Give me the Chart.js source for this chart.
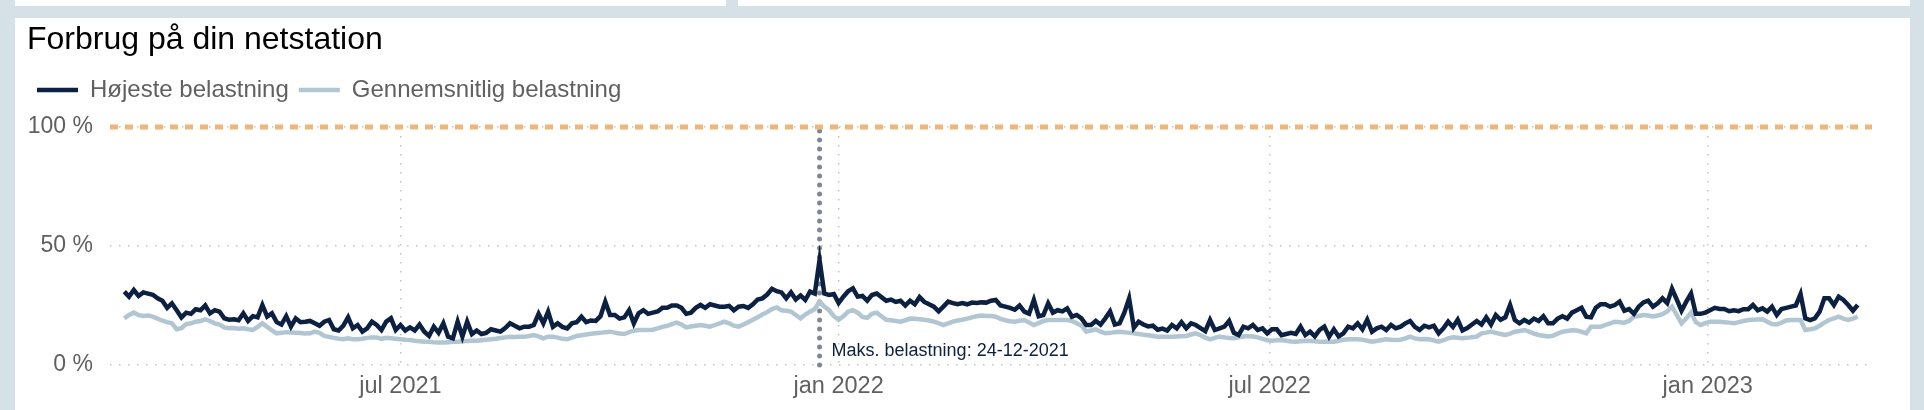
<!DOCTYPE html>
<html lang="da">
<head>
<meta charset="utf-8">
<title>Forbrug på din netstation</title>
<script src="https://cdn.jsdelivr.net/npm/chart.js@4.4.0/dist/chart.umd.min.js"></script>
<style>
  html, body { margin: 0; padding: 0; background: #d5e0e7; width: 1924px; height: 410px; overflow: hidden; }
  .top { position: absolute; top: 0; height: 6px; background: #fff; }
  #panel { position: absolute; left: 15px; top: 18px; width: 1895px; height: 392px; background: #fff; }
</style>
</head>
<body>
<div class="top" style="left:15px;width:711px"></div>
<div class="top" style="left:738px;width:1172px"></div>
<div id="panel"><canvas id="loadChart" width="1895" height="392"></canvas></div>
<script>
// one value every second day, starting at startDate
const startDate = '2021-03-07';
const stepDays = 2;

// Højeste belastning (%)
const peakLoad = [
  30.8, 28.7, 31.5, 29, 30.5, 30, 29.5, 28, 27, 24,
  25.9, 23, 20, 22, 21.5, 23.4, 23, 25, 21.7, 23,
  22.4, 19.6, 19, 19.2, 18.8, 21.7, 18.5, 20.5, 20, 25.2,
  20.3, 21.7, 18, 17, 20.5, 16.1, 19.6, 18, 18.2, 18.5,
  17.5, 16.5, 18.2, 18.9, 15, 14.5, 16.5, 20, 15.4, 16.8,
  14, 15.4, 18.2, 16.8, 14.7, 18.2, 19.6, 14.7, 16.8, 14.5,
  15.8, 14.5, 17, 14, 12.2, 16.1, 13.5, 17.5, 11.9, 11.2,
  18.2, 11.9, 18.2, 13, 14.5, 13, 13.5, 15, 14.5, 14,
  15.5, 17.5, 16.5, 15.4, 16.1, 16.1, 16.8, 21.5, 17.5, 22.4,
  16, 17.5, 16, 15.4, 17.5, 18, 20.3, 18, 18.7, 18.5,
  20.5, 26.6, 21, 21, 19.5, 20, 23, 17.5, 21.7, 23,
  21.5, 22, 22.5, 24, 24, 25, 25, 24, 21.5, 22,
  24, 25.2, 24, 25.5, 25, 24.5, 24.5, 24.8, 23, 24.5,
  24.8, 24, 25.5, 27.5, 28, 29.6, 32, 31, 30.5, 28,
  30.5, 27.5, 29.2, 27.3, 30.8, 30, 44.1, 30, 29.4, 29.8,
  26, 28.7, 31, 32.2, 28.7, 29, 27, 29.4, 30, 28.5,
  27, 27.5, 26.5, 27, 25, 27, 25.5, 28.5, 26.5, 25.5,
  24.5, 22.5, 24.5, 26.6, 26, 25.5, 26, 25.5, 26.2, 26,
  26.3, 26.2, 27, 27.3, 25, 24.5, 24, 23.2, 25, 22.4,
  21.5, 27.3, 20.5, 21, 25.9, 22, 23, 22.5, 23.8, 20.3,
  21, 19.6, 16.8, 16.8, 18.5, 17, 19.6, 22.5, 17, 17.5,
  22, 28, 15.6, 18.2, 17, 16.2, 16.5, 14.8, 15.3, 14.5,
  16.8, 15.4, 18, 15.4, 17.5, 16.8, 15.5, 14.2, 18.9, 14.7,
  15.4, 16.1, 18.5, 13.5, 12.6, 16.1, 15.4, 16.8, 14.7, 15.4,
  13.3, 15, 15, 12.5, 13, 13.5, 13, 16.1, 12.6, 14,
  12, 14.7, 16.1, 11.9, 15, 12, 13.3, 16.1, 15.4, 17.5,
  15, 19, 14, 15.4, 16.1, 14.7, 16.8, 15.4, 16.1, 17.5,
  18.5, 16, 14.7, 16.5, 15.8, 16.5, 13.3, 15.4, 18.2, 16,
  19, 14.5, 15.5, 17, 18.5, 17, 20, 17, 21, 19,
  20, 25.2, 18.9, 17.5, 18.9, 17.8, 19.5, 18.5, 20.5, 17.5,
  17.5, 19.5, 20.5, 19.5, 22, 23, 24, 20.3, 20, 24,
  25.5, 25.5, 24.5, 25.2, 26.6, 22.8, 23.5, 21.5, 24.5, 26.3,
  27, 24.5, 25.9, 28, 26, 32, 27.5, 22.8, 26.6, 30,
  21.5, 21.5, 22, 23, 24, 23.5, 23.5, 22.6, 23, 22.6,
  23.4, 23.4, 25.2, 23, 23.8, 22.4, 24.5, 21, 23.5, 24,
  24.5, 25, 29.8, 19.6, 18.9, 19.6, 22.4, 28, 28, 25.2,
  28.7, 27.3, 25.2, 22.8, 25.2
];

// Gennemsnitlig belastning (%)
const avgLoad = [
  19.6, 21, 22, 21, 20.6, 20.8, 20.3, 19.5, 18.6, 18,
  17.5, 15, 15.5, 17.2, 17.5, 18.2, 18.5, 19.2, 18.5, 17.5,
  17, 15.8, 15.4, 15.5, 15.2, 15.4, 15, 14.7, 16, 17.5,
  16, 14.5, 13.3, 13.5, 13.8, 13.6, 13.5, 13.4, 13.2, 13.3,
  14, 13.5, 12.2, 11.8, 11.4, 11, 10.8, 11.2, 10.8, 10.8,
  11, 11.4, 11.6, 11.6, 11, 11.4, 11.2, 11, 10.8, 10.6,
  10.5, 10.2, 10, 9.8, 9.8, 9.5, 9.4, 9.4, 9.6, 9.8,
  9.8, 10, 10.1, 10.2, 10.2, 10.4, 10.6, 10.8, 11, 11.3,
  11.6, 11.9, 11.8, 11.9, 11.9, 12.2, 12.6, 12, 11.2, 11.9,
  11.9, 11.5, 11, 10.8, 11.5, 12.2, 12.5, 12.8, 13.1, 13.3,
  13.5, 13.8, 14, 13.6, 13.2, 13, 13.8, 14.4, 14.7, 14.7,
  14.7, 14.8, 15.4, 16, 16.4, 17.2, 17.8, 17, 15.8, 16.2,
  16.5, 16.8, 16.5, 16.1, 16.8, 17.5, 18.2, 17.5, 16.5, 16.1,
  17, 18, 19, 20, 21.2, 22.2, 23.5, 24.2, 23, 22.8,
  22.4, 21, 19.6, 21.2, 22.4, 23.5, 26.6, 24.5, 23, 20.5,
  19, 20.5, 22.4, 23, 22, 20.2, 19.8, 21.5, 22, 20.5,
  19, 18.8, 18.5, 18.2, 18.8, 19.5, 19.4, 19.2, 19, 18.7,
  18.2, 17.6, 16.8, 17.5, 18.2, 18.7, 19, 19.5, 20, 20.5,
  20.8, 20.6, 20.6, 20.3, 19.4, 18.8, 18.4, 18.2, 18.6, 18.9,
  17.8, 16.8, 17.6, 18.5, 18.9, 18.9, 18.9, 18.9, 18.9, 18.5,
  17.5, 16.5, 14, 14.5, 15, 14, 13.3, 13.5, 13.8, 14,
  13.8, 13.5, 13.3, 13, 12.7, 12.5, 12.2, 11.9, 11.9, 11.9,
  11.9, 12, 12.1, 12.2, 12.8, 13.3, 12.5, 11.5, 10.8, 11.4,
  11.9, 11.6, 11.3, 11.2, 11.6, 12, 12.2, 12, 11.6, 11,
  10.4, 10.2, 10.4, 10.5, 10.2, 9.9, 9.8, 10, 10.2, 10.1,
  10, 9.8, 9.8, 9.8, 9.8, 10.2, 10.6, 10.8, 10.8, 10.8,
  10.6, 10.2, 9.8, 10.1, 10.5, 10.8, 10.6, 10.5, 10.6, 11.2,
  11.9, 11.2, 10.8, 10.9, 10.8, 10.3, 9.8, 10.4, 11.2, 11.6,
  11.4, 11.2, 11.4, 11.7, 11.9, 13.3, 13.6, 14, 13.5, 13,
  12.6, 13.2, 14, 14.3, 14.7, 14, 13.2, 12.6, 12.3, 12,
  12.3, 13.2, 14, 14.3, 14.6, 14.5, 14, 13.3, 16.1, 16.1,
  16.1, 16.8, 17.5, 18.2, 18, 17.8, 18.5, 20.3, 20.6, 21,
  20.8, 20.4, 20.8, 21.4, 22.5, 24.5, 21, 17.5, 19.5, 22,
  18, 16.8, 17.6, 18.2, 18.2, 18.2, 18, 17.8, 17.5, 18,
  18.5, 18.9, 19, 19.1, 19.2, 18.2, 17.2, 17, 17.8, 18.7,
  18.9, 18.9, 18.9, 14.7, 15, 15.4, 16.5, 17.8, 18.9, 19.6,
  20.3, 19.5, 18.9, 19.5, 20.3
];

const capacityLimit = 100;
const yTicks = [0, 50, 100];
const monthTicks = ['2021-07-01', '2022-01-01', '2022-07-01', '2023-01-01'];
const monthLabels = ['jul 2021', 'jan 2022', 'jul 2022', 'jan 2023'];

const FONT = '"Liberation Sans", Arial, Helvetica, sans-serif';
const DAY = 86400000;
const t0 = Date.parse(startDate);
const dayOf = s => Math.round((Date.parse(s) - t0) / DAY);
const tickDays = monthTicks.map(dayOf);
const lastDay = (peakLoad.length - 1) * stepDays;
const xMin = -6;
const xMax = lastDay + 6;

const toPoints = arr => arr.map((v, i) => ({ x: i * stepDays, y: v }));

// marker goes on the day with the highest peak
const maxIdx = peakLoad.indexOf(Math.max(...peakLoad));
const maxDay = maxIdx * stepDays;
const maxDate = new Date(t0 + maxDay * DAY);
const pad = n => String(n).padStart(2, '0');
const maxLabel = 'Maks. belastning: ' + pad(maxDate.getUTCDate()) + '-' +
  pad(maxDate.getUTCMonth() + 1) + '-' + maxDate.getUTCFullYear();

const markerLabel = {
  id: 'markerLabel',
  afterDatasetsDraw(chart) {
    const { ctx, scales: { x, y } } = chart;
    ctx.save();
    ctx.font = '18px ' + FONT;
    ctx.fillStyle = '#0c2041';
    ctx.textBaseline = 'alphabetic';
    ctx.fillText(maxLabel, x.getPixelForValue(maxDay) + 12, y.getPixelForValue(0) - 9);
    ctx.restore();
  }
};

// extra room between the legend and the plot
const legendGap = {
  id: 'legendGap',
  beforeInit(chart) {
    const fit = chart.legend.fit;
    chart.legend.fit = function () {
      fit.call(this);
      this.height += 15;
    };
  }
};

Chart.defaults.font.family = FONT;
Chart.defaults.color = '#606060';

const gridStyle = { color: '#c4c4c4', lineWidth: 1.5, drawTicks: false };
const borderStyle = { display: false, dash: [1.5, 7.5] };

new Chart(document.getElementById('loadChart'), {
  type: 'line',
  data: {
    datasets: [
      {
        label: 'Højeste belastning',
        data: toPoints(peakLoad),
        borderColor: '#0c2041',
        backgroundColor: '#0c2041',
        borderWidth: 4.5
      },
      {
        label: 'Gennemsnitlig belastning',
        data: toPoints(avgLoad),
        borderColor: '#b1c6d2',
        backgroundColor: '#b1c6d2',
        borderWidth: 4.5
      },
      {
        label: 'Kapacitet',
        data: [{ x: xMin, y: capacityLimit }, { x: xMax, y: capacityLimit }],
        borderColor: '#f2b579',
        borderWidth: 5,
        borderDash: [8, 7],
        clip: false
      },
      {
        label: 'Maks',
        data: [{ x: maxDay, y: 0 }, { x: maxDay, y: capacityLimit }],
        borderColor: '#7b889b',
        borderWidth: 5,
        borderDash: [0.1, 8.9],
        borderCapStyle: 'round',
        clip: false
      }
    ]
  },
  options: {
    responsive: false,
    animation: false,
    elements: { point: { radius: 0 }, line: { tension: 0 } },
    layout: { padding: { left: 12, right: 38, top: 3, bottom: 10 } },
    plugins: {
      title: {
        display: true,
        text: 'Forbrug på din netstation',
        align: 'start',
        color: '#000',
        font: { size: 32, weight: 'normal' },
        padding: { top: 0, bottom: 8.5 }
      },
      legend: {
        align: 'start',
        labels: {
          filter: item => item.datasetIndex < 2,
          usePointStyle: true,
          pointStyle: 'line',
          pointStyleWidth: 41,
          font: { size: 24 },
          color: '#606060',
          padding: 10
        }
      },
      tooltip: { enabled: false }
    },
    scales: {
      x: {
        type: 'linear',
        min: xMin,
        max: xMax,
        afterBuildTicks: s => { s.ticks = tickDays.map(v => ({ value: v })); },
        afterFit: s => { s.height = 35; },
        ticks: {
          callback: v => monthLabels[tickDays.indexOf(v)],
          autoSkip: false,
          maxRotation: 0,
          font: { size: 23.5 },
          padding: 7
        },
        grid: gridStyle,
        border: borderStyle
      },
      y: {
        min: 0,
        max: capacityLimit,
        afterBuildTicks: s => { s.ticks = yTicks.map(v => ({ value: v })); },
        afterFit: s => { s.width = 83; },
        ticks: {
          callback: v => v + ' %',
          font: { size: 23 },
          padding: 17
        },
        grid: gridStyle,
        border: borderStyle
      }
    }
  },
  plugins: [markerLabel, legendGap]
});
</script>
</body>
</html>
